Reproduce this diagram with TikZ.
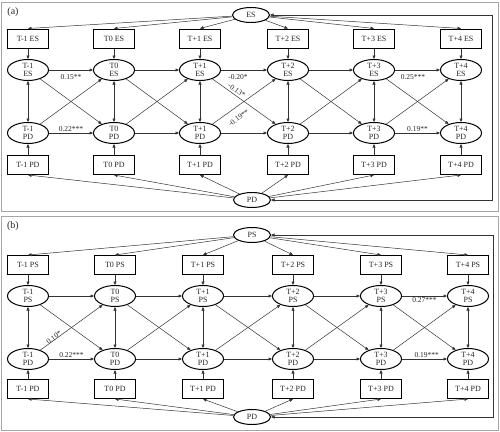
\documentclass[tikz,border=0pt]{standalone}
\usepackage{fontspec}
\setmainfont{Liberation Serif}
\usetikzlibrary{positioning, arrows.meta, shapes.geometric}

\begin{document}
\begin{tikzpicture}[x=1pt, y=-1pt, >={Triangle[length=3.5pt,width=3pt]},
    every node/.style={font=\fontsize{8}{8.5}\selectfont, text=black!85},
    lat/.style={ellipse, draw, line width=1pt, minimum width=41pt, minimum height=21pt, inner sep=0pt, align=center},
    big/.style={ellipse, draw, line width=1pt, minimum width=37pt, minimum height=15pt, inner sep=0pt},
    obs/.style={rectangle, draw, line width=1pt, minimum width=41pt, minimum height=19pt, inner sep=0pt},
    reg/.style={black!80, line width=0.5pt},
    est/.style={inner sep=1pt, font=\fontsize{7.5}{8}\selectfont}]
    \useasboundingbox (0,0) rectangle (500,431);
    \draw[gray!70] (1,2) rectangle (498,211);
    \draw[gray!70] (1,216) rectangle (498,430);

    % panel (a)
    \node[font=\fontsize{10}{12}\selectfont] (lab-a) at (13,12) {(a)};
    \node[big] (es) at (251,15) {ES};
    \node[big] (pd) at (252,200) {PD};
    \foreach \i/\lbl/\x in {1/T-1/28, 2/T0/114, 3/T+1/200, 4/T+2/288, 5/T+3/374, 6/T+4/461} {
        \node[obs] (es-box\i) at (\x,38.5) {\lbl\ ES};
        \node[lat] (es\i) at (\x,70) {\lbl\\ES};
        \node[lat] (pd\i) at (\x,133) {\lbl\\PD};
        \node[obs] (pd-box\i) at (\x,165) {\lbl\ PD};
        \draw[reg, ->] (es) -- (es-box\i.north);
        \draw[reg, ->] (es-box\i) -- (es\i);
        \draw[reg, ->] (pd-box\i) -- (pd\i);
        \draw[reg, ->] (pd) -- (pd-box\i.south);
        \draw[reg, <->] (es\i) -- (pd\i);
    }
    \foreach \i/\j in {1/2, 2/3, 3/4, 4/5, 5/6} {
        \draw[reg, ->] (es\i) -- (es\j);
        \draw[reg, ->] (pd\i) -- (pd\j);
        \draw[reg, ->] (es\i) -- (pd\j);
        \draw[reg, ->] (pd\i) -- (es\j);
    }
    \coordinate (ra) at (492,0);
    \draw[reg, <->] (es.east) -- (es.east -| ra) -- (pd.east -| ra) -- (pd.east);
    \path (es1) -- (es2) node[est, below, pos=0.5, yshift=-3.5pt] (ca1) {0.15**};
    \path (pd1) -- (pd2) node[est, above, pos=0.5] (ca2) {0.22***};
    \path (es3) -- (es4) node[est, below, pos=0.37, yshift=-3.5pt] (ca3) {-0.20*};
    \path (es3) -- (pd4) node[est, sloped, above, pos=0.34, yshift=1pt] (ca4) {-0.13*};
    \path (pd3) -- (es4) node[est, sloped, below, pos=0.32, yshift=-6.5pt] (ca5) {-0.19**};
    \path (es5) -- (es6) node[est, below, pos=0.4, yshift=-3pt] (ca6) {0.25***};
    \path (pd5) -- (pd6) node[est, above, pos=0.5] (ca7) {0.19**};

    % panel (b)
    \node[font=\fontsize{10}{12}\selectfont] (lab-b) at (13,226) {(b)};
    \node[big] (ps) at (252,235) {PS};
    \node[big] (pdb) at (252,417) {PD};
    \foreach \i/\lbl/\x in {1/T-1/28, 2/T0/115, 3/T+1/203, 4/T+2/293, 5/T+3/381, 6/T+4/468} {
        \node[obs] (ps-box\i) at (\x,265) {\lbl\ PS};
        \node[lat] (ps\i) at (\x,296) {\lbl\\PS};
        \node[lat] (pdb\i) at (\x,359) {\lbl\\PD};
        \node[obs] (pdb-box\i) at (\x,389) {\lbl\ PD};
        \draw[reg, ->] (ps) -- (ps-box\i.north);
        \draw[reg, ->] (ps-box\i) -- (ps\i);
        \draw[reg, ->] (pdb-box\i) -- (pdb\i);
        \draw[reg, ->] (pdb) -- (pdb-box\i.south);
        \draw[reg, <->] (ps\i) -- (pdb\i);
    }
    \foreach \i/\j in {1/2, 2/3, 3/4, 4/5, 5/6} {
        \draw[reg, ->] (ps\i) -- (ps\j);
        \draw[reg, ->] (pdb\i) -- (pdb\j);
        \draw[reg, ->] (ps\i) -- (pdb\j);
        \draw[reg, ->] (pdb\i) -- (ps\j);
    }
    \coordinate (rb) at (493,0);
    \draw[reg, <->] (ps.east) -- (ps.east -| rb) -- (pdb.east -| rb) -- (pdb.east);
    \path (pdb1) -- (ps2) node[est, sloped, above, pos=0.24, yshift=-1.5pt] (cb1) {0.10*};
    \path (pdb1) -- (pdb2) node[est, above, pos=0.5] (cb2) {0.22***};
    \path (ps5) -- (ps6) node[est, below, pos=0.5] (cb3) {0.27***};
    \path (pdb5) -- (pdb6) node[est, above, pos=0.55] (cb4) {0.19***};
\end{tikzpicture}
\end{document}
